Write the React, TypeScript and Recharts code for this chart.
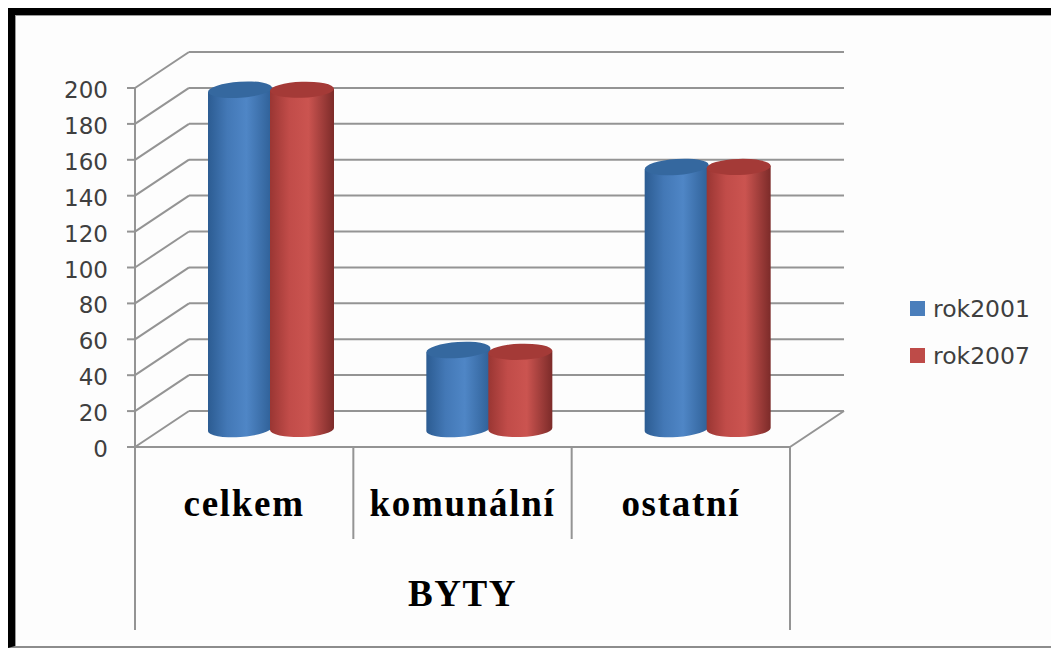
import React from "react";
import { Bar, BarChart, Legend, XAxis, YAxis } from "recharts";

const categories = ["celkem", "komunální", "ostatní"];
const rok2001 = [189, 44, 146];
const rok2007 = [189, 43, 146];
const yTicks = [0, 20, 40, 60, 80, 100, 120, 140, 160, 180, 200];
const groupLabel = "BYTY";

const data = categories.map((name, i) => ({
  name,
  rok2001: rok2001[i],
  rok2007: rok2007[i],
}));

const WIDTH = 1051;
const HEIGHT = 640;
const PLOT_W = 655;
const BAND = PLOT_W / categories.length;
const DEPTH_X = 54;
const DEPTH_Y = 36;
const GRID = "#949494";
const TEXT = "#3f3f3f";
const SANS = "'DejaVu Sans', sans-serif";
const SERIF = "'Liberation Serif', serif";

// wall and floor lines hang off each y tick, so they follow the axis scale
function WallTick({ x, y, payload }: any) {
  return (
    <g>
      <line x1={x - 8} y1={y} x2={x} y2={y} stroke={GRID} strokeWidth={2} />
      <line x1={x} y1={y} x2={x + DEPTH_X} y2={y - DEPTH_Y} stroke={GRID} strokeWidth={2} />
      <line
        x1={x + DEPTH_X}
        y1={y - DEPTH_Y}
        x2={x + DEPTH_X + PLOT_W}
        y2={y - DEPTH_Y}
        stroke={GRID}
        strokeWidth={2}
      />
      {payload.value === 0 && (
        <line
          x1={x + PLOT_W}
          y1={y}
          x2={x + PLOT_W + DEPTH_X}
          y2={y - DEPTH_Y}
          stroke={GRID}
          strokeWidth={2}
        />
      )}
      <text
        x={x - 27}
        y={y + 10}
        textAnchor="end"
        fontFamily={SANS}
        fontSize={23}
        fill={TEXT}
      >
        {payload.value}
      </text>
    </g>
  );
}

function CategoryTick({ x, y, payload, index }: any) {
  const last = index === categories.length - 1;
  return (
    <g>
      {index === 0 && (
        <line x1={x - BAND / 2} y1={y} x2={x - BAND / 2} y2={y + 183} stroke={GRID} strokeWidth={2} />
      )}
      <line
        x1={x + BAND / 2}
        y1={y}
        x2={x + BAND / 2}
        y2={last ? y + 183 : y + 92}
        stroke={GRID}
        strokeWidth={2}
      />
      <text
        x={x}
        y={y + 69}
        textAnchor="middle"
        fontFamily={SERIF}
        fontWeight="bold"
        fontSize={37}
        letterSpacing={1.7}
        fill="#000"
      >
        {payload.value}
      </text>
    </g>
  );
}

function Cylinder({ x, y, width, height, dataKey }: any) {
  const blue = dataKey === "rok2001";
  const tilt = blue ? 4 : 2;
  const rx = width / 2;
  const ry = 8;
  const left = x + DEPTH_X / 2;
  const top = y - DEPTH_Y / 2;
  const bottom = top + height;
  const d = rx * Math.sin((tilt * Math.PI) / 180);
  return (
    <g>
      <path
        d={`M${left},${top + d} L${left},${bottom + d} A${rx},${ry} ${-tilt} 0 0 ${left + width},${bottom - d} L${left + width},${top - d} Z`}
        fill={blue ? "url(#bodyBlue)" : "url(#bodyRed)"}
      />
      <ellipse
        cx={left + rx}
        cy={top}
        rx={rx}
        ry={ry}
        transform={`rotate(${-tilt} ${left + rx} ${top})`}
        fill={blue ? "#35689f" : "#a43a37"}
      />
    </g>
  );
}

function LegendList({ payload }: any) {
  return (
    <div>
      {(payload || []).map((item: any) => (
        <div
          key={item.value}
          style={{
            display: "flex",
            alignItems: "center",
            height: 47,
            fontFamily: SANS,
            fontSize: 23.5,
            color: TEXT,
          }}
        >
          <span
            style={{
              display: "inline-block",
              width: 15,
              height: 15,
              marginRight: 8,
              background: item.color,
            }}
          />
          {item.value}
        </div>
      ))}
    </div>
  );
}

export default function App() {
  return (
    <div style={{ position: "relative", width: WIDTH, height: HEIGHT }}>
      <div
        style={{
          position: "absolute",
          inset: 0,
          boxSizing: "border-box",
          background: "#fdfdfd",
          borderLeft: "7px solid #000",
          borderTop: "7px solid #000",
          borderRight: "1px solid #8c8c8c",
          borderBottom: "2px solid #8c8c8c",
          boxShadow: "inset 1px 1px 0 #9a9a9a",
        }}
      />
      {/* walls and axes sit in their own chart so the cylinders can cover the grid */}
      <div style={{ position: "absolute", left: 0, top: 0 }}>
        <BarChart
          width={WIDTH}
          height={HEIGHT}
          data={data}
          margin={{ top: 80, right: 269, bottom: 0, left: 0 }}
        >
          <XAxis
            dataKey="name"
            height={201}
            tickLine={false}
            tickSize={0}
            tickMargin={0}
            interval={0}
            axisLine={{ stroke: GRID, strokeWidth: 2 }}
            tick={<CategoryTick />}
            label={{
              value: groupLabel,
              position: "insideBottom",
              offset: 42,
              fontFamily: SERIF,
              fontWeight: "bold",
              fontSize: 37,
              letterSpacing: 1.5,
              fill: "#000",
            }}
          />
          <YAxis
            width={127}
            domain={[0, 200]}
            ticks={yTicks}
            interval={0}
            tickLine={false}
            tickSize={0}
            tickMargin={0}
            axisLine={{ stroke: GRID, strokeWidth: 2 }}
            tick={<WallTick />}
          />
          {/* y axis draws no ticks without a series, so keep an invisible one here */}
          <Bar dataKey="rok2001" fill="transparent" isAnimationActive={false} />
        </BarChart>
      </div>
      <div style={{ position: "absolute", left: 0, top: 0 }}>
        <BarChart
          width={WIDTH}
          height={HEIGHT}
          data={data}
          margin={{ top: 80, right: 129, bottom: 201, left: 127 }}
          barCategoryGap={45}
          barGap={-2}
          barSize={64}
        >
          <defs>
            <linearGradient id="bodyBlue" x1="0" y1="0" x2="1" y2="0">
              <stop offset="0%" stopColor="#2c5c92" />
              <stop offset="30%" stopColor="#4378b6" />
              <stop offset="60%" stopColor="#4f86c6" />
              <stop offset="100%" stopColor="#2f6097" />
            </linearGradient>
            <linearGradient id="bodyRed" x1="0" y1="0" x2="1" y2="0">
              <stop offset="0%" stopColor="#9a3633" />
              <stop offset="30%" stopColor="#c14c49" />
              <stop offset="60%" stopColor="#cb5450" />
              <stop offset="100%" stopColor="#7c2b29" />
            </linearGradient>
          </defs>
          <XAxis dataKey="name" hide />
          <YAxis domain={[0, 200]} hide />
          <Legend
            layout="vertical"
            align="right"
            verticalAlign="top"
            content={<LegendList />}
            wrapperStyle={{ left: 902, top: 277, width: 140 }}
          />
          <Bar dataKey="rok2001" fill="#4a7ebb" shape={<Cylinder dataKey="rok2001" />} isAnimationActive={false} />
          <Bar dataKey="rok2007" fill="#be4b48" shape={<Cylinder dataKey="rok2007" />} isAnimationActive={false} />
        </BarChart>
      </div>
    </div>
  );
}
